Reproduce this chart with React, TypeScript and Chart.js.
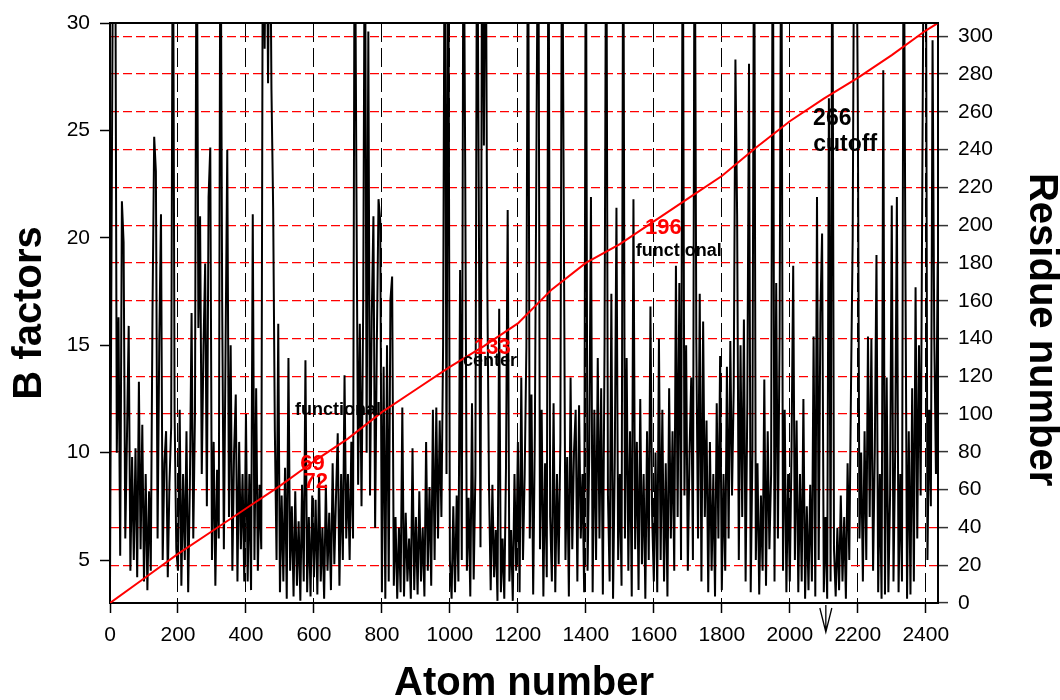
import React, { useEffect, useRef } from 'react';
import { Chart, registerables } from 'chart.js';

Chart.register(...registerables);

const FONT = "'Liberation Sans', Arial, Helvetica, sans-serif";

// B factors sampled every ATOM_STEP atoms (atom 0 .. 2435)
const ATOM_STEP = 5;
const bFactors = [
  // 0-95
  4.0, 21.5, 38, 38, 10.0, 16.3, 5.2, 21.7, 19.8, 6.0, 10.8, 15.9, 4.5, 9.8, 5.0, 10.2, 4.2, 13.3, 5.5, 11.3,
  // 100-195
  4.0, 9.0, 3.6, 8.2, 4.5, 16.5, 24.7, 23.1, 6.0, 15.2, 21.1, 5.0, 9.5, 11.0, 4.2, 8.6, 11.2, 38, 11.9, 5.5,
  // 200-295
  4.5, 12.0, 3.8, 9.0, 5.0, 11.0, 3.5, 8.5, 16.5, 6.0, 11.8, 38, 15.8, 21.0, 9.0, 14.9, 18.8, 7.5, 21.9, 24.2,
  // 300-395
  5.0, 10.5, 3.8, 9.2, 6.0, 38, 17.0, 5.5, 14.9, 24.1, 7.0, 15.0, 4.5, 10.0, 12.7, 4.0, 10.5, 5.5, 9.0, 4.0,
  // 400-495
  11.8, 4.0, 9.0, 3.6, 21.1, 5.0, 13.0, 4.5, 8.5, 5.5, 38, 28.8, 38, 27.2, 38, 26.9, 21.4, 11.0, 5.0, 16.0,
  // 500-595
  3.5, 8.0, 4.0, 9.3, 3.2, 14.4, 4.5, 7.5, 3.3, 8.2, 3.8, 6.8, 3.1, 8.5, 4.0, 14.3, 3.5, 7.0, 3.3, 8.0,
  // 600-695
  4.2, 7.8, 3.4, 9.0, 4.0, 6.5, 3.2, 8.5, 4.5, 7.2, 3.6, 9.5, 4.8, 8.0, 10.9, 3.8, 9.0, 5.0, 13.6, 6.0,
  // 700-795
  9.0, 5.0, 10.5, 6.0, 38, 22.3, 8.5, 16.0, 7.5, 17.0, 38, 10.0, 29.6, 8.0, 16.3, 21.0, 6.5, 15.0, 21.8, 20.8,
  // 800-895
  3.5, 14.0, 3.2, 15.0, 4.0, 17.1, 18.2, 3.8, 7.0, 3.2, 6.5, 3.5, 12.1, 3.3, 7.2, 4.0, 6.0, 3.2, 10.2, 3.6,
  // 900-995
  7.0, 3.4, 8.2, 4.0, 6.5, 3.3, 10.5, 4.5, 8.4, 3.8, 12.0, 5.0, 12.1, 6.0, 11.5, 7.0, 15.0, 38, 9.0, 38,
  // 1000-1095
  5.0, 3.2, 7.5, 3.5, 8.0, 4.0, 18.5, 5.0, 38, 23.3, 4.5, 7.9, 3.3, 12.3, 4.1, 9.0, 38, 21.7, 5.6, 38,
  // 1100-1195
  24.3, 38, 17.9, 8.5, 3.6, 8.5, 4.2, 6.4, 3.1, 16.7, 3.5, 6.0, 3.2, 9.3, 21.3, 4.0, 6.4, 3.1, 9.0, 4.5,
  // 1200-1295
  10.5, 3.5, 13.5, 5.0, 9.0, 14.9, 38, 6.0, 12.7, 3.4, 11.0, 25.3, 38, 5.5, 12.0, 3.3, 9.5, 4.2, 38, 7.0,
  // 1300-1395
  4.0, 12.3, 3.5, 9.0, 4.8, 10.5, 38, 21.2, 5.0, 9.8, 3.3, 13.5, 5.5, 10.0, 12.0, 4.0, 12.2, 6.0, 9.0, 3.5,
  // 1400-1495
  38, 4.5, 10.0, 21.9, 3.5, 12.0, 5.0, 14.4, 6.0, 13.0, 3.4, 15.0, 38, 8.0, 4.0, 17.4, 3.2, 9.5, 21.4, 5.0,
  // 1500-1595
  9.0, 3.8, 38, 6.0, 14.4, 4.5, 11.0, 3.3, 21.8, 5.5, 10.5, 3.6, 12.5, 4.8, 9.0, 3.2, 11.0, 5.0, 16.8, 7.0,
  // 1600-1695
  4.0, 10.0, 3.5, 15.3, 5.0, 12.0, 4.0, 9.5, 3.3, 13.0, 6.0, 11.0, 4.5, 18.7, 7.0, 17.9, 5.0, 38, 8.0, 15.0,
  // 1700-1795
  4.5, 10.0, 13.5, 5.0, 38, 15.1, 6.0, 17.4, 4.0, 16.1, 7.0, 11.5, 3.5, 10.5, 4.5, 9.0, 3.3, 12.3, 6.0, 14.5,
  // 1800-1895
  3.6, 9.0, 4.5, 14.0, 6.0, 15.2, 8.0, 13.0, 28.3, 21.1, 5.0, 15.0, 7.0, 16.2, 4.0, 12.3, 28.1, 3.5, 10.0, 38,
  // 1900-1995
  5.0, 9.5, 3.4, 8.0, 4.5, 13.4, 3.8, 11.0, 5.5, 9.0, 38, 4.0, 17.9, 6.0, 15.5, 38, 4.5, 12.0, 3.5, 9.0,
  // 2000-2095
  4.0, 10.0, 18.7, 5.0, 11.5, 3.5, 9.0, 4.0, 12.5, 3.2, 7.5, 3.6, 8.5, 4.0, 15.4, 3.3, 21.9, 5.0, 16.5, 20.2,
  // 2100-2195
  3.5, 7.0, 3.2, 26.5, 4.0, 38, 5.5, 3.3, 6.5, 3.6, 8.0, 4.0, 7.0, 3.2, 9.5, 5.0, 13.0, 20.0, 38, 38,
  // 2200-2295
  26.4, 6.0, 10.0, 4.0, 11.0, 5.0, 15.4, 7.0, 15.3, 4.5, 10.0, 19.2, 3.5, 9.0, 3.2, 27.8, 3.4, 13.5, 3.5, 8.0,
  // 2300-2395
  21.5, 4.0, 10.0, 21.9, 3.5, 9.0, 4.0, 38, 19.2, 3.2, 11.0, 3.4, 13.0, 4.0, 17.7, 6.0, 15.0, 8.0, 23.1, 38,
  // 2400-2435
  38, 5.0, 12.0, 7.5, 29.2, 15.4, 9.0, 18.8,
];

// residue number along the atom sequence (red line)
const residueAtoms = [0, 100, 200, 300, 400, 500, 600, 700, 800, 900, 1000, 1100, 1200, 1300, 1400, 1500, 1600, 1700, 1800, 1900, 2000, 2100, 2200, 2300, 2400, 2436];
const residueNumbers = [0, 13, 26, 38, 50, 62, 75, 87, 101, 113, 125, 136, 148, 166, 180, 190, 202, 214, 226, 241, 255, 267, 278, 290, 303, 307];

// tick labels
const atomTicks = [0, 200, 400, 600, 800, 1000, 1200, 1400, 1600, 1800, 2000, 2200, 2400];
const bTicks = [5, 10, 15, 20, 25, 30];
const residueTicks = [0, 20, 40, 60, 80, 100, 120, 140, 160, 180, 200, 220, 240, 260, 280, 300];

const ATOM_MAX = 2436;
const B_MIN = 3;
const B_MAX = 30;
const RESIDUE_MAX = 307;
const cutoffAtom = 2106;

// text labels placed in (atom, residue) coordinates
const notes = [
  { text: '266', atom: 2125, residue: 253, color: '#000000', size: 23, align: 'center' },
  { text: 'cutoff', atom: 2069, residue: 239, color: '#000000', size: 23, align: 'left' },
  { text: '196', atom: 1628, residue: 195.5, color: '#ff0000', size: 22, align: 'center' },
  { text: 'functional', atom: 1547, residue: 183.5, color: '#000000', size: 18, align: 'left' },
  { text: '133', atom: 1125, residue: 131.6, color: '#ff0000', size: 22, align: 'center' },
  { text: 'center', atom: 1118, residue: 125.3, color: '#000000', size: 18, align: 'center' },
  { text: 'functional', atom: 544, residue: 99.4, color: '#000000', size: 18, align: 'left' },
  { text: '69', atom: 596, residue: 70.4, color: '#ff0000', size: 22, align: 'center' },
  { text: '72', atom: 605, residue: 60.7, color: '#ff0000', size: 22, align: 'center' },
];

const overlayPlugin = {
  id: 'overlay',
  afterDraw(chart: any) {
    const { ctx, chartArea, scales } = chart;
    const xs = scales.x;
    const rs = scales.y1;
    ctx.save();
    // top frame line
    ctx.strokeStyle = '#000';
    ctx.lineWidth = 2;
    ctx.beginPath();
    ctx.moveTo(chartArea.left - 1, chartArea.top);
    ctx.lineTo(chartArea.right + 1, chartArea.top);
    ctx.stroke();
    // text notes
    for (const n of notes) {
      ctx.font = `bold ${n.size}px ${FONT}`;
      ctx.fillStyle = n.color;
      ctx.textAlign = n.align as CanvasTextAlign;
      ctx.textBaseline = 'alphabetic';
      ctx.fillText(n.text, xs.getPixelForValue(n.atom), rs.getPixelForValue(n.residue));
    }
    // cutoff arrow under the x axis
    const cx = xs.getPixelForValue(cutoffAtom);
    const by = chartArea.bottom;
    ctx.strokeStyle = '#000';
    ctx.lineWidth = 1.3;
    ctx.beginPath();
    ctx.moveTo(cx - 6, by + 5);
    ctx.lineTo(cx, by + 29);
    ctx.lineTo(cx + 6, by + 5);
    ctx.moveTo(cx, by + 2);
    ctx.lineTo(cx, by + 29);
    ctx.stroke();
    ctx.restore();
  },
};

export default function App() {
  const canvasRef = useRef<HTMLCanvasElement | null>(null);

  useEffect(() => {
    document.body.style.margin = '0';
    const canvas = canvasRef.current;
    if (!canvas) return;

    const tickFont = { family: FONT, size: 21 };
    const titleFont = { family: FONT, size: 40, weight: 'bold' as const };

    const chart = new Chart(canvas, {
      type: 'line',
      data: {
        datasets: [
          {
            label: 'Residue number',
            data: residueAtoms.map((a, i) => ({ x: a, y: residueNumbers[i] })),
            yAxisID: 'y1',
            borderColor: '#ff0000',
            borderWidth: 2,
            pointRadius: 0,
            tension: 0,
            order: 1,
          },
          {
            label: 'B factors',
            data: bFactors.map((v, i) => ({ x: i * ATOM_STEP, y: v })),
            yAxisID: 'y',
            borderColor: '#000000',
            borderWidth: 2,
            borderJoinStyle: 'miter',
            pointRadius: 0,
            tension: 0,
            order: 2,
          },
        ],
      },
      options: {
        animation: false,
        responsive: false,
        maintainAspectRatio: false,
        events: [],
        layout: { padding: { top: 23, left: 0, right: 0, bottom: 0 } },
        plugins: {
          legend: { display: false },
          tooltip: { enabled: false },
        },
        scales: {
          x: {
            type: 'linear',
            position: 'bottom',
            min: 0,
            max: ATOM_MAX,
            afterBuildTicks: (s: any) => {
              s.ticks = atomTicks.map((v) => ({ value: v }));
            },
            afterFit: (s: any) => {
              s.height = 97;
            },
            grid: {
              color: '#000000',
              lineWidth: 1,
              tickLength: 10,
              tickColor: '#000000',
              tickWidth: 1.5,
            },
            border: { display: true, color: '#000000', width: 2, dash: [19, 6] },
            ticks: {
              color: '#000000',
              font: tickFont,
              padding: 10,
              maxRotation: 0,
              autoSkip: false,
              callback: (v: any) => String(v),
            },
            title: {
              display: true,
              text: 'Atom number',
              color: '#000000',
              font: { ...titleFont, lineHeight: 0.8 },
              padding: 0,
            },
          },
          y: {
            type: 'linear',
            position: 'left',
            min: B_MIN,
            max: B_MAX,
            afterBuildTicks: (s: any) => {
              s.ticks = bTicks.map((v) => ({ value: v }));
            },
            afterFit: (s: any) => {
              s.width = 110;
            },
            grid: {
              drawOnChartArea: false,
              tickLength: 10,
              tickColor: '#000000',
              tickWidth: 1.5,
            },
            border: { display: true, color: '#000000', width: 2 },
            ticks: { color: '#000000', font: tickFont, padding: 10, callback: (v: any) => String(v) },
            title: {
              display: true,
              text: 'B factors',
              color: '#000000',
              font: { ...titleFont, lineHeight: 1 },
              padding: { top: 10, bottom: 0 },
            },
          },
          y1: {
            type: 'linear',
            position: 'right',
            min: 0,
            max: RESIDUE_MAX,
            z: 1,
            afterBuildTicks: (s: any) => {
              s.ticks = residueTicks.map((v) => ({ value: v }));
            },
            afterFit: (s: any) => {
              s.width = 122;
            },
            grid: {
              drawOnChartArea: true,
              color: (c: any) => (c.tick && c.tick.value === 0 ? 'rgba(0,0,0,0)' : '#ff0000'),
              lineWidth: 1.2,
              tickLength: 10,
              tickColor: '#333333',
              tickWidth: 1.5,
            },
            border: { display: true, color: '#000000', width: 2, dash: [9, 4] },
            ticks: { color: '#000000', font: tickFont, padding: 10, callback: (v: any) => String(v) },
            title: {
              display: true,
              text: '   Residue number',
              color: '#000000',
              font: { ...titleFont, lineHeight: 0.95 },
              padding: 0,
            },
          },
        },
      },
      plugins: [overlayPlugin],
    });

    return () => {
      chart.destroy();
    };
  }, []);

  return (
    <div style={{ width: 1060, height: 700, background: '#ffffff' }}>
      <canvas ref={canvasRef} width={1060} height={700} style={{ display: 'block', width: 1060, height: 700 }} />
    </div>
  );
}
